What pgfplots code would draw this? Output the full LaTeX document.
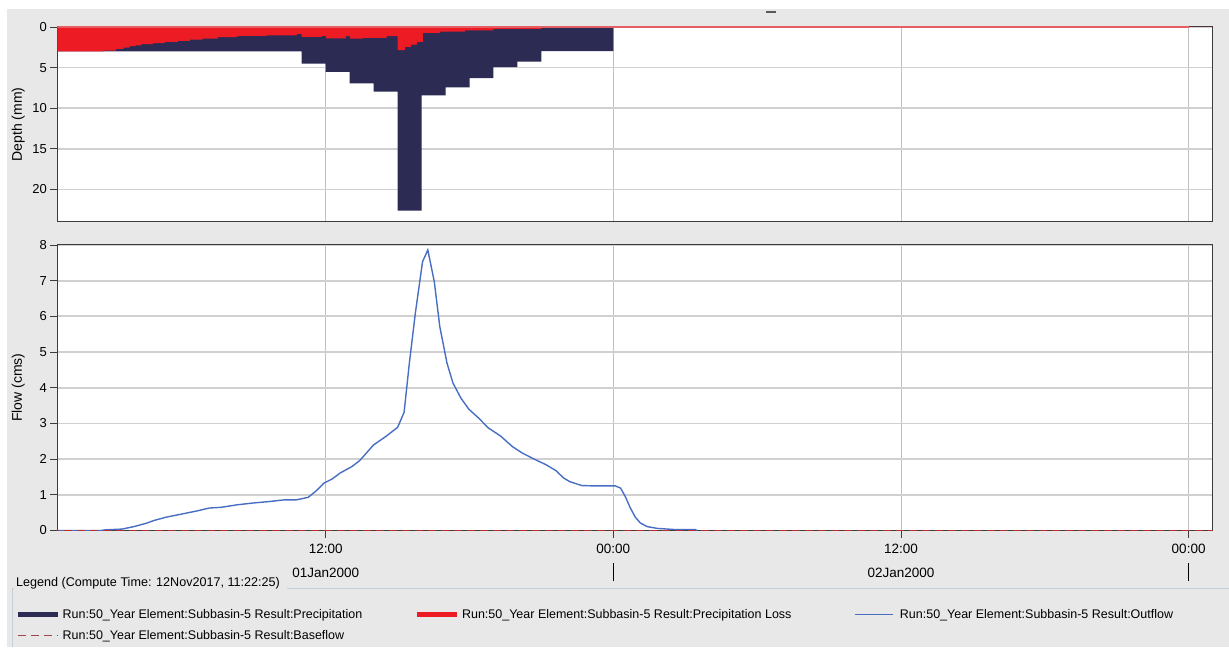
\documentclass[border=0pt]{standalone}
\usepackage{pgfplots}
\pgfplotsset{compat=1.18}
\usepackage{fontspec}
\setmainfont{Liberation Sans}
\definecolor{bg}{RGB}{232,232,232}
\definecolor{precip}{RGB}{43,43,84}
\definecolor{loss}{RGB}{237,28,36}
\definecolor{lossline}{RGB}{228,95,100}
\definecolor{flow}{RGB}{72,110,195}
\definecolor{base}{RGB}{185,45,45}
\definecolor{baseleg}{RGB}{160,72,72}
\definecolor{gridc}{RGB}{208,208,208}
\definecolor{vgridc}{RGB}{192,192,192}
\definecolor{framec}{RGB}{60,60,60}
\definecolor{legline}{RGB}{198,206,214}

\begin{document}
\begin{tikzpicture}[x=1pt,y=1pt]
\fill[white] (0,0) rectangle (1229,647);
\fill[bg] (7,0) rectangle (1229,638);
\draw[gray!70!black, line width=1.5pt] (766,635) -- (776,635);
\pgfplotsset{
  hms/.style={
    scale only axis, width=1155.5pt, xmin=0.81, xmax=49.0,
    axis background/.style={fill=white},
    axis line style={framec, line width=1pt},
    xtick={12,24,36,48},
    grid=major,
    x grid style={vgridc, line width=0.8pt},
    y grid style={gridc, line width=1.8pt},
    tick align=outside, tick pos=left,
    major tick length=7pt,
    tick style={framec, line width=0.8pt},
    yticklabel style={font=\fontsize{13}{15}\selectfont, /pgf/number format/assume math mode=true},
    ylabel style={at={(axis description cs:-0.034,0.5)}, anchor=center, font=\fontsize{14}{16}\selectfont},
  }
}
% ---------- top panel: depth ----------
\begin{axis}[hms, at={(57.5pt,425pt)}, anchor=south west, height=195pt,
  y dir=reverse, ymin=0, ymax=24, ytick={0,5,10,15,20},
  xmajorticks=false, xticklabels={},
  ylabel={Depth (mm)}]
\addplot[const plot, fill=precip, draw=none] coordinates {
(0,3.0) (11,4.5) (12,5.52) (13,6.95) (14,7.97) (15,22.6) (16,8.42) (17,7.44)
(18,6.29) (19,4.94) (20,4.25) (21,2.98) (24,0) (49,0)} \closedcycle;
\addplot[const plot, fill=loss, draw=none] coordinates {
(0,3.0) (2.77,2.9) (3.26,2.69) (3.57,2.53) (3.82,2.37) (4.07,2.25) (4.31,2.12)
(4.79,2.0) (5.28,1.84) (5.84,1.71) (6.33,1.55) (6.87,1.43) (7.5,1.26) (8.29,1.12)
(8.55,1.1) (9.53,1.02) (10.81,0.86) (11.0,1.22) (11.83,1.1) (12.01,1.39) (12.84,1.14)
(13.01,1.43) (13.57,1.35) (14.54,1.14) (15.0,2.86) (15.3,2.45) (15.55,2.16) (15.8,1.84)
(16.05,0.73) (16.77,0.57) (17.82,0.41) (19.0,0.24) (21.0,0.08) (24.0,0) (49,0)} \closedcycle;
\addplot[lossline, line width=1.6pt] coordinates {(0,0) (48,0)};
\end{axis}
% ---------- bottom panel: flow ----------
\begin{axis}[hms, at={(57.5pt,116.3pt)}, anchor=south west, height=285.7pt,
  ymin=0, ymax=8, ytick={0,1,2,3,4,5,6,7,8},
  ylabel={Flow (cms)},
  xticklabels={{12:00\\[10.5pt]01Jan2000},{00:00\\[10.5pt]\smash{\rule[-4pt]{0.9pt}{18pt}}},{12:00\\[10.5pt]02Jan2000},{00:00\\[10.5pt]\smash{\rule[-4pt]{0.9pt}{18pt}}}},
  xticklabel style={align=center, yshift=-3pt, font=\fontsize{13.5}{13.5}\selectfont}]
\addplot[flow, line width=1.4pt] coordinates {
(0.81,0) (2.6,0) (2.84,0.02) (3.5,0.04) (4.0,0.11) (4.5,0.2) (4.83,0.28) (5.32,0.37)
(5.98,0.46) (6.64,0.55) (7.14,0.63) (7.64,0.65) (8.3,0.72) (8.96,0.77) (9.62,0.81)
(10.28,0.86) (10.78,0.86) (11.27,0.93) (11.6,1.11) (11.93,1.33) (12.26,1.44) (12.6,1.61)
(13.09,1.79) (13.42,1.96) (14.0,2.40) (14.5,2.63) (15.0,2.89) (15.27,3.31) (15.49,4.69)
(15.74,6.09) (16.04,7.53) (16.26,7.86) (16.53,6.97) (16.76,5.71) (17.06,4.69) (17.31,4.13)
(17.64,3.71) (17.97,3.40) (18.38,3.15) (18.79,2.87) (19.29,2.65) (19.79,2.35) (20.2,2.17)
(20.7,2.00) (21.2,1.84) (21.6,1.68) (21.93,1.47) (22.18,1.37) (22.68,1.26) (23.17,1.25)
(23.67,1.25) (24.08,1.25) (24.3,1.19) (24.5,0.95) (24.71,0.63) (24.92,0.37) (25.13,0.21)
(25.41,0.11) (25.83,0.06) (26.5,0.03) (27.4,0.03) (27.5,0)};
\addplot[base, line width=1.2pt, dash pattern=on 8pt off 5pt] coordinates {(0,0) (49,0)};
\end{axis}
% ---------- legend ----------
\node[anchor=west, inner sep=0pt, font=\fontsize{12.6}{14}\selectfont] at (16,64) {Legend (Compute Time: 12Nov2017, 11:22:25)};
\draw[legline, line width=0.8pt] (287,58.5) -- (1229,58.5);
\draw[legline, line width=0.8pt] (12,0) -- (12,58.5) -- (14,58.5);
\begin{scope}[every node/.style={anchor=west, inner sep=0pt, font=\fontsize{12.5}{14}\selectfont}]
\draw[precip, line width=5pt] (18,32) -- (58,32);
\node at (62.5,32) {Run:50\_Year Element:Subbasin-5 Result:Precipitation};
\draw[loss, line width=5pt] (417,32) -- (457,32);
\node at (462,32) {Run:50\_Year Element:Subbasin-5 Result:Precipitation Loss};
\draw[flow, line width=1.4pt] (855,32) -- (893,32);
\node at (900,32) {Run:50\_Year Element:Subbasin-5 Result:Outflow};
\draw[baseleg, line width=1.2pt, dash pattern=on 8pt off 5pt] (18,11) -- (58,11);
\node at (62.5,11) {Run:50\_Year Element:Subbasin-5 Result:Baseflow};
\end{scope}
\end{tikzpicture}
\end{document}
